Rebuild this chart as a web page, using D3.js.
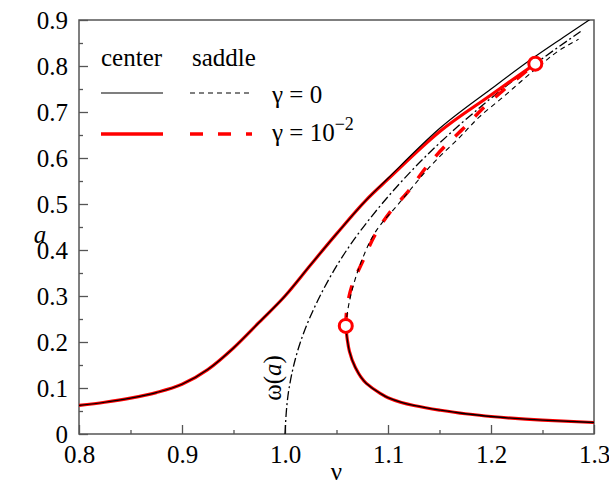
<!DOCTYPE html>
<html>
<head>
<meta charset="utf-8">
<script src="https://cdn.jsdelivr.net/npm/d3@7"></script>
</head>
<body style="margin:0; background:#fff">
<svg id="chart" width="609" height="484"></svg>
<script>
// [nu, a] pairs
const upperGamma0 = [[0.80,0.062],[0.825,0.069],[0.85,0.078],[0.875,0.090],[0.90,0.108],[0.925,0.140],
  [0.95,0.187],[0.975,0.243],[1.00,0.300],[1.025,0.368],[1.05,0.435],[1.079,0.509],[1.10,0.556],
  [1.15,0.664],[1.20,0.750],[1.238,0.813],[1.27,0.862],[1.30,0.907]];
const upperGamma2 = [[0.80,0.062],[0.825,0.069],[0.85,0.078],[0.875,0.090],[0.90,0.108],[0.925,0.140],
  [0.95,0.187],[0.975,0.243],[1.00,0.300],[1.025,0.368],[1.05,0.435],[1.079,0.509],[1.10,0.554],
  [1.15,0.657],[1.20,0.737],[1.243,0.805]];
const saddleGamma0 = [[1.059,0.235],[1.061,0.270],[1.066,0.320],[1.075,0.380],[1.088,0.440],[1.112,0.505],
  [1.147,0.596],[1.170,0.646],[1.189,0.690],[1.212,0.733],[1.231,0.770],[1.248,0.802],[1.267,0.835],[1.285,0.858]];
const saddleGamma2 = [[1.059,0.235],[1.060,0.270],[1.0647,0.320],[1.076,0.378],[1.0874,0.433],[1.1036,0.487],
  [1.118,0.523],[1.1375,0.581],[1.155,0.625],[1.175,0.668],[1.194,0.712],[1.215,0.753],[1.243,0.805]];
const lowerBranch = [[1.059,0.235],[1.0605,0.205],[1.0625,0.180],[1.068,0.146],[1.079,0.110],[1.092,0.089],
  [1.10,0.079],[1.125,0.062],[1.15,0.052],[1.175,0.044],[1.20,0.038],[1.25,0.030],[1.30,0.025]];
const backbone = [[1.000,0.0],[1.004,0.1],[1.015,0.2],[1.034,0.3],[1.060,0.4],[1.094,0.5],
  [1.135,0.6],[1.184,0.7],[1.240,0.8],[1.287,0.875]];
const foldPoints = [[1.243,0.805],[1.059,0.235]];

const xTicks = [0.8, 0.9, 1.0, 1.1, 1.2, 1.3];
const xTickLabels = ["0.8", "0.9", "1.0", "1.1", "1.2", "1.3"];
const xMinor = [0.85, 0.95, 1.05, 1.15, 1.25];
const yTicks = [0, 0.1, 0.2, 0.3, 0.4, 0.5, 0.6, 0.7, 0.8, 0.9];
const yTickLabels = ["0", "0.1", "0.2", "0.3", "0.4", "0.5", "0.6", "0.7", "0.8", "0.9"];
const yMinor = [0.05, 0.15, 0.25, 0.35, 0.45, 0.55, 0.65, 0.75, 0.85];

const serif = '"Liberation Serif", "Times New Roman", serif';
const svg = d3.select("#chart");
const plotLeft = 79, plotRight = 594, plotTop = 20, plotBottom = 434;
const frameColor = "#555";

const x = d3.scaleLinear().domain([0.8, 1.3]).range([plotLeft, plotRight]);
const y = d3.scaleLinear().domain([0, 0.9]).range([plotBottom, plotTop]);

svg.append("clipPath").attr("id", "plot")
  .append("rect").attr("x", plotLeft).attr("y", plotTop)
  .attr("width", plotRight - plotLeft).attr("height", plotBottom - plotTop);

// axes with inward ticks
const gx = svg.append("g").attr("transform", `translate(0,${plotBottom})`)
  .call(d3.axisBottom(x).tickValues(xTicks).tickSize(-9)
    .tickFormat((d, i) => xTickLabels[i]));
gx.selectAll("text").attr("y", 29).attr("dy", null);
svg.append("g").attr("transform", `translate(0,${plotBottom})`)
  .call(d3.axisBottom(x).tickValues(xMinor).tickSize(-4).tickFormat(""));

const gy = svg.append("g").attr("transform", `translate(${plotLeft},0)`)
  .call(d3.axisLeft(y).tickValues(yTicks).tickSize(-9)
    .tickFormat((d, i) => yTickLabels[i]));
gy.selectAll("text").attr("x", -11).attr("dy", "8.5");
svg.append("g").attr("transform", `translate(${plotLeft},0)`)
  .call(d3.axisLeft(y).tickValues(yMinor).tickSize(-4).tickFormat(""));

svg.selectAll(".domain").remove();
svg.selectAll(".tick line").attr("stroke", frameColor).attr("stroke-width", 1.3);

svg.append("rect").attr("x", plotLeft).attr("y", plotTop)
  .attr("width", plotRight - plotLeft).attr("height", plotBottom - plotTop)
  .attr("fill", "none").attr("stroke", frameColor).attr("stroke-width", 1.5);

// curves
const lineX = d3.line().x(d => x(d[0])).y(d => y(d[1])).curve(d3.curveMonotoneX);
const lineY = d3.line().x(d => x(d[0])).y(d => y(d[1])).curve(d3.curveMonotoneY);
const curves = svg.append("g").attr("clip-path", "url(#plot)").attr("fill", "none");

curves.append("path").datum(backbone).attr("d", lineY)
  .attr("stroke", "#000").attr("stroke-width", 1.3).attr("stroke-dasharray", "9,3,2,3");

curves.append("path").datum(upperGamma2).attr("d", lineX)
  .attr("stroke", "#f00").attr("stroke-width", 3.2);
curves.append("path").datum(lowerBranch).attr("d", lineY)
  .attr("stroke", "#f00").attr("stroke-width", 3.2);
curves.append("path").datum(saddleGamma2).attr("d", lineY)
  .attr("stroke", "#f00").attr("stroke-width", 3.5).attr("stroke-dasharray", "13,15");

curves.append("path").datum(saddleGamma0).attr("d", lineY)
  .attr("stroke", "#000").attr("stroke-width", 1.1).attr("stroke-dasharray", "5,4");
curves.append("path").datum(upperGamma0).attr("d", lineX)
  .attr("stroke", "#000").attr("stroke-width", 1.2);
curves.append("path").datum(lowerBranch).attr("d", lineY)
  .attr("stroke", "#000").attr("stroke-width", 1.3);

svg.append("g").selectAll("circle").data(foldPoints).join("circle")
  .attr("cx", d => x(d[0])).attr("cy", d => y(d[1])).attr("r", 6.5)
  .attr("fill", "#fff").attr("stroke", "#f00").attr("stroke-width", 3);

// axis titles
const titles = svg.append("g");
titles.append("text").attr("x", x(1.05)).attr("y", 480).attr("text-anchor", "middle").text("ν");
titles.append("text").attr("x", 40).attr("y", 243).attr("text-anchor", "middle")
  .attr("font-style", "italic").text("a");

const om = titles.append("text").attr("transform", "translate(281,378) rotate(-90)")
  .attr("text-anchor", "middle");
om.append("tspan").text("ω(");
om.append("tspan").attr("font-style", "italic").text("a");
om.append("tspan").text(")");

// legend
const lg = svg.append("g");
lg.append("text").attr("x", 101).attr("y", 66).text("center");
lg.append("text").attr("x", 192).attr("y", 66).text("saddle");
lg.append("line").attr("x1", 101).attr("x2", 163).attr("y1", 93).attr("y2", 93)
  .attr("stroke", "#000").attr("stroke-width", 1.2);
lg.append("line").attr("x1", 190).attr("x2", 252).attr("y1", 93).attr("y2", 93)
  .attr("stroke", "#000").attr("stroke-width", 1.1).attr("stroke-dasharray", "5,4");
lg.append("line").attr("x1", 101).attr("x2", 163).attr("y1", 134).attr("y2", 134)
  .attr("stroke", "#f00").attr("stroke-width", 3.5);
lg.append("line").attr("x1", 190).attr("x2", 252).attr("y1", 134).attr("y2", 134)
  .attr("stroke", "#f00").attr("stroke-width", 3.5).attr("stroke-dasharray", "13,15");
lg.append("text").attr("x", 272).attr("y", 103).text("γ = 0");
const g2 = lg.append("text").attr("x", 272).attr("y", 141);
g2.append("tspan").text("γ = 10");
g2.append("tspan").attr("dy", -11).style("font-size", "18px").text("−2");

// one font for every text, set as inline style so nothing overrides it
svg.selectAll("text").style("font-family", serif).attr("fill", "#000");
svg.selectAll("text").filter(function () { return !this.style.fontSize; }).style("font-size", "25px");
</script>
</body>
</html>
